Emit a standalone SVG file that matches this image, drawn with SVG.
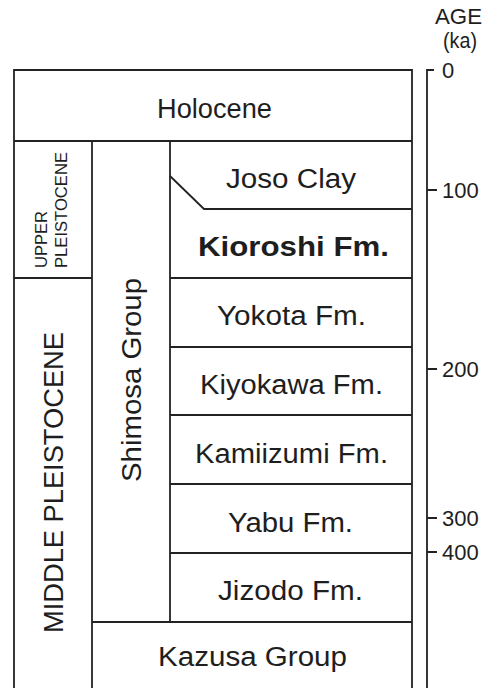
<svg xmlns="http://www.w3.org/2000/svg" width="491" height="688" viewBox="0 0 491 688">
<style>
.ln{stroke:#222;stroke-width:1.8;fill:none}
.t{font-family:"Liberation Sans",Arial,sans-serif;font-size:27px;fill:#1e1e1e}
.b{font-weight:bold}
.ax{font-family:"Liberation Sans",Arial,sans-serif;font-size:22px;fill:#1e1e1e}
.sm{font-family:"Liberation Sans",Arial,sans-serif;font-size:16px;fill:#1e1e1e}
</style>
<rect width="491" height="688" fill="#fff"/>
<g id="connectors">
<path class="ln" d="M14,688 V70 H412 V688"/>
<path class="ln" d="M14,141 H412"/>
<path class="ln" d="M92,141 V688"/>
<path class="ln" d="M170,141 V622"/>
<path class="ln" d="M14,278 H92"/>
<path class="ln" d="M170,176 L204,209 H412"/>
<path class="ln" d="M170,278 H412"/>
<path class="ln" d="M170,347 H412"/>
<path class="ln" d="M170,415 H412"/>
<path class="ln" d="M170,484 H412"/>
<path class="ln" d="M170,553 H412"/>
<path class="ln" d="M92,622 H412"/>
<path class="ln" d="M434,70 H427 V688"/>
<path class="ln" d="M427,190 H437 M427,369 H437 M427,518 H437 M427,552 H437"/>
</g>
<g id="holocene"><text class="t" x="157" y="118" textLength="115" lengthAdjust="spacingAndGlyphs">Holocene</text></g>
<g id="upper-pleistocene">
<text class="sm" transform="translate(47,268) rotate(-90)" textLength="57" lengthAdjust="spacingAndGlyphs">UPPER</text>
<text class="sm" transform="translate(67,268) rotate(-90)" textLength="116" lengthAdjust="spacingAndGlyphs">PLEISTOCENE</text>
</g>
<g id="middle-pleistocene"><text class="t" transform="translate(63,633) rotate(-90)" textLength="301" lengthAdjust="spacingAndGlyphs">MIDDLE PLEISTOCENE</text></g>
<g id="shimosa-group"><text class="t" transform="translate(141,482) rotate(-90)" textLength="204" lengthAdjust="spacingAndGlyphs">Shimosa Group</text></g>
<g id="joso-clay"><text class="t" x="226" y="188" textLength="130" lengthAdjust="spacingAndGlyphs">Joso Clay</text></g>
<g id="kioroshi"><text class="t b" x="198" y="256" textLength="191" lengthAdjust="spacingAndGlyphs">Kioroshi Fm.</text></g>
<g id="yokota"><text class="t" x="217" y="325" textLength="149" lengthAdjust="spacingAndGlyphs">Yokota Fm.</text></g>
<g id="kiyokawa"><text class="t" x="200" y="394" textLength="183" lengthAdjust="spacingAndGlyphs">Kiyokawa Fm.</text></g>
<g id="kamiizumi"><text class="t" x="195" y="463" textLength="193" lengthAdjust="spacingAndGlyphs">Kamiizumi Fm.</text></g>
<g id="yabu"><text class="t" x="228" y="532" textLength="125" lengthAdjust="spacingAndGlyphs">Yabu Fm.</text></g>
<g id="jizodo"><text class="t" x="218" y="600" textLength="145" lengthAdjust="spacingAndGlyphs">Jizodo Fm.</text></g>
<g id="kazusa-group"><text class="t" x="158" y="666" textLength="189" lengthAdjust="spacingAndGlyphs">Kazusa Group</text></g>
<g id="age-axis">
<text class="ax" x="435" y="24" font-size="19" textLength="47" lengthAdjust="spacingAndGlyphs">AGE</text>
<text class="ax" x="443" y="48" font-size="19" textLength="34" lengthAdjust="spacingAndGlyphs">(ka)</text>
<text class="ax" x="442" y="78">0</text>
<text class="ax" x="442" y="198">100</text>
<text class="ax" x="442" y="377">200</text>
<text class="ax" x="442" y="526">300</text>
<text class="ax" x="442" y="560">400</text>
</g>
</svg>
